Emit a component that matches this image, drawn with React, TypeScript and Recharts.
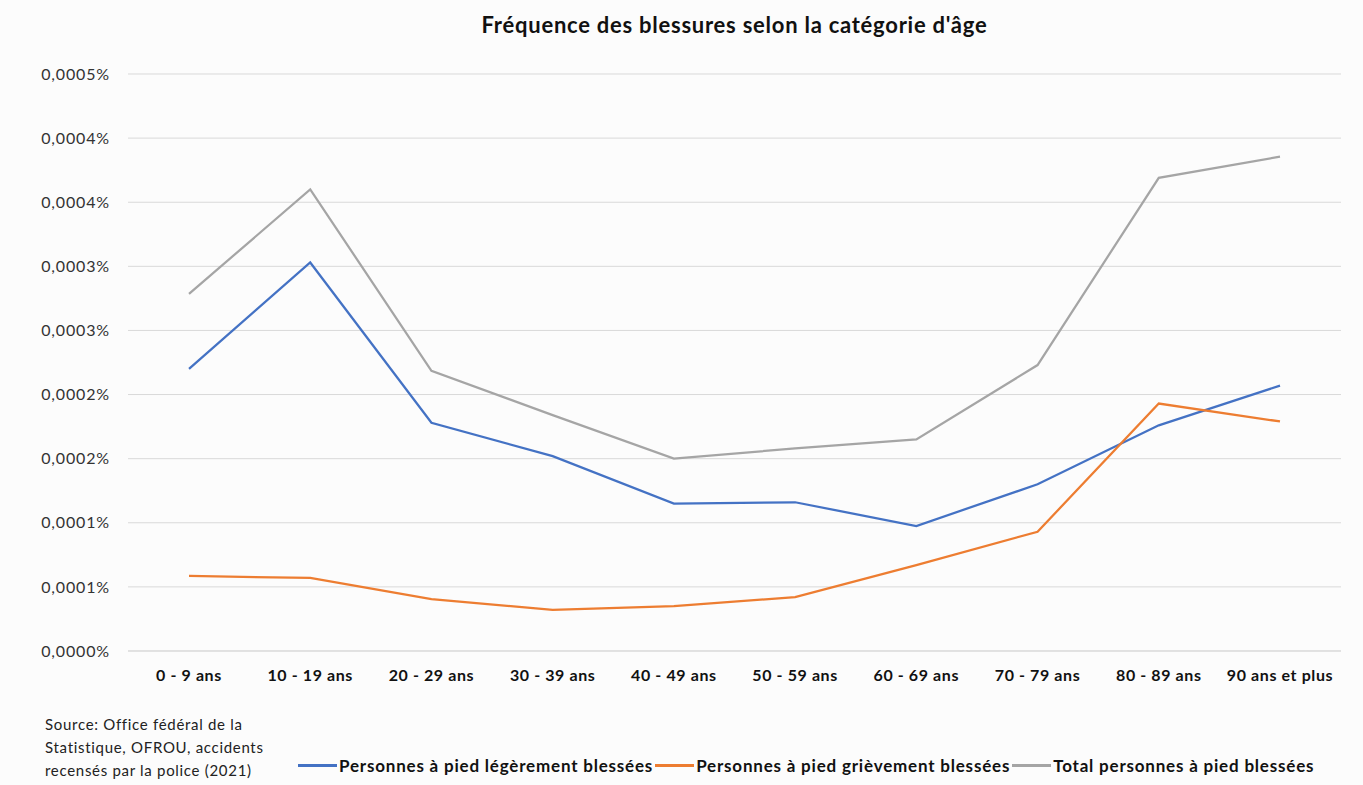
import { LineChart, Line, XAxis, YAxis, CartesianGrid } from "recharts";

const FONT = "Lato, 'Liberation Sans', sans-serif";

const categories = ["0 - 9 ans", "10 - 19 ans", "20 - 29 ans", "30 - 39 ans", "40 - 49 ans", "50 - 59 ans", "60 - 69 ans", "70 - 79 ans", "80 - 89 ans", "90 ans et plus"];

// values in 0.00001 %
const legeres = [22.0, 30.3, 17.8, 15.2, 11.5, 11.6, 9.75, 13.0, 17.6, 20.7];
const graves = [5.85, 5.7, 4.05, 3.2, 3.5, 4.2, 6.7, 9.3, 19.3, 17.9];
const total = [27.85, 36.0, 21.85, 18.4, 15.0, 15.8, 16.5, 22.3, 36.9, 38.55];

const yTicks = [0, 5, 10, 15, 20, 25, 30, 35, 40, 45];
const yTickLabels = ["0,0000%", "0,0001%", "0,0001%", "0,0002%", "0,0002%", "0,0003%", "0,0003%", "0,0004%", "0,0004%", "0,0005%"];

const seriesNames = ["Personnes à pied légèrement blessées", "Personnes à pied grièvement blessées", "Total personnes à pied blessées"];
const seriesColors = ["#4472C4", "#ED7D31", "#A5A5A5"];

const data = categories.map((c, i) => ({ cat: c, a: legeres[i], b: graves[i], c: total[i] }));

export default function App() {
  return (
    <div style={{ position: "absolute", top: 0, left: 0, width: 1363, height: 785, background: "#fcfcfc", fontFamily: FONT }}>
      <div style={{ position: "absolute", top: 11, left: 128, width: 1213, textAlign: "center", fontSize: 22, letterSpacing: 0.75, fontWeight: 700, color: "#111" }}>
        Fréquence des blessures selon la catégorie d'âge
      </div>
      <LineChart width={1363} height={785} data={data} margin={{ top: 74, right: 22, left: 0, bottom: 104 }}>
        <CartesianGrid vertical={false} stroke="#d9d9d9" />
        <XAxis
          dataKey="cat"
          height={30}
          padding={{ left: 61, right: 61 }}
          axisLine={{ stroke: "#d9d9d9" }}
          tickLine={false}
          tickSize={0}
          tickMargin={19}
          tick={{ fill: "#111", fontSize: 16, fontWeight: 700, fontFamily: FONT, letterSpacing: 0.6 }}
          interval={0}
        />
        <YAxis
          width={128}
          domain={[0, 45]}
          ticks={yTicks}
          axisLine={false}
          tickLine={false}
          tickSize={0}
          tickMargin={18}
          tickFormatter={(v: number) => yTickLabels[yTicks.indexOf(v)]}
          tick={{ fill: "#333", fontSize: 16, fontFamily: FONT, letterSpacing: 0.85 }}
        />
        <Line dataKey="a" stroke={seriesColors[0]} strokeWidth={2.25} dot={false} isAnimationActive={false} />
        <Line dataKey="b" stroke={seriesColors[1]} strokeWidth={2.25} dot={false} isAnimationActive={false} />
        <Line dataKey="c" stroke={seriesColors[2]} strokeWidth={2.25} dot={false} isAnimationActive={false} />
      </LineChart>
      <div style={{ position: "absolute", left: 45, top: 713, fontSize: 15, letterSpacing: 0.7, lineHeight: "23px", color: "#222" }}>
        Source: Office fédéral de la<br />Statistique, OFROU, accidents<br />recensés par la police (2021)
      </div>
      <div style={{ position: "absolute", left: 298, top: 755, display: "flex", alignItems: "center", fontSize: 17, letterSpacing: 0.8, fontWeight: 700, color: "#111" }}>
        {seriesNames.map((n, i) => (
          <div key={n} style={{ display: "flex", alignItems: "center", marginRight: 2 }}>
            <span style={{ display: "inline-block", width: 39, height: 2.5, background: seriesColors[i], marginRight: 2 }} />
            <span>{n}</span>
          </div>
        ))}
      </div>
    </div>
  );
}
